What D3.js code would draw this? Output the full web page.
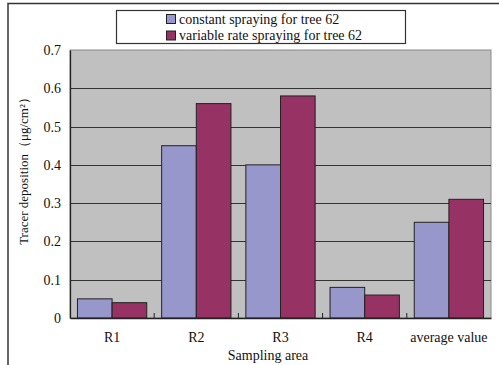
<!DOCTYPE html>
<html>
<head>
<meta charset="utf-8">
<script src="https://cdn.jsdelivr.net/npm/d3@7"></script>
<style>
  html, body { margin: 0; padding: 0; background: #fff; }
  svg { display: block; }
</style>
</head>
<body>
<svg id="chart" width="499" height="365"></svg>
<script>
// Sampling areas and tracer deposition (μg/cm²) for each spraying mode
const categories = ["R1", "R2", "R3", "R4", "average value"];
const constantSpray = [0.05, 0.45, 0.40, 0.08, 0.25];
const variableSpray = [0.04, 0.56, 0.58, 0.06, 0.31];
const seriesNames = ["constant spraying for tree 62", "variable rate spraying for tree 62"];
const seriesColors = ["#9797cb", "#963264"];
const yTicks = [0, 0.1, 0.2, 0.3, 0.4, 0.5, 0.6, 0.7];

const SERIF = "'Liberation Serif', 'Times New Roman', serif";
const svg = d3.select("#chart");
const plot = { left: 70, top: 50, right: 491, bottom: 318 };

// Outer frame (top and left edges)
svg.append("path")
  .attr("d", "M8,365 L8,3.5 L499,3.5")
  .attr("fill", "none").attr("stroke", "#333").attr("stroke-width", 1.5);

const x = d3.scaleBand().domain(categories).range([plot.left, plot.right]).paddingInner(0).paddingOuter(0);
const xs = d3.scaleBand().domain([0, 1]).range([0, x.bandwidth()]).paddingInner(0).paddingOuter(0.215);
const y = d3.scaleLinear().domain([0, 0.7]).range([plot.bottom, plot.top]);

// Plot background
svg.append("rect")
  .attr("x", plot.left).attr("y", plot.top)
  .attr("width", plot.right - plot.left).attr("height", plot.bottom - plot.top)
  .attr("fill", "#c0c0c0").attr("stroke", "#8a8a8a").attr("stroke-width", 1);

// Horizontal gridlines
svg.append("g").selectAll("line")
  .data(yTicks.filter(d => d > 0 && d < 0.7))
  .join("line")
  .attr("x1", plot.left).attr("x2", plot.right)
  .attr("y1", d => Math.round(y(d)) + 0.5).attr("y2", d => Math.round(y(d)) + 0.5)
  .attr("stroke", "#333").attr("stroke-width", 1.2);

// Bars
const groups = svg.append("g").selectAll("g")
  .data(categories.map((c, i) => ({ c, vals: [constantSpray[i], variableSpray[i]] })))
  .join("g")
  .attr("transform", d => `translate(${x(d.c)},0)`);

groups.selectAll("rect")
  .data(d => d.vals.map((v, k) => ({ v, k })))
  .join("rect")
  .attr("x", d => xs(d.k))
  .attr("width", xs.bandwidth())
  .attr("y", d => y(d.v))
  .attr("height", d => y(0) - y(d.v))
  .attr("fill", d => seriesColors[d.k])
  .attr("stroke", "#222").attr("stroke-width", 1);

// Y axis
const yAxis = svg.append("g")
  .attr("transform", `translate(${plot.left},0)`)
  .call(d3.axisLeft(y).tickValues(yTicks).tickFormat(d => d === 0 ? "0" : d3.format(".1f")(d)).tickSize(0).tickPadding(9));
yAxis.attr("font-family", SERIF).attr("font-size", 14);
yAxis.select(".domain").attr("stroke", "#222").attr("stroke-width", 1.3);
yAxis.selectAll("text").attr("fill", "#111");

// X axis
const xAxis = svg.append("g")
  .attr("transform", `translate(0,${plot.bottom})`)
  .call(d3.axisBottom(x).tickSize(0).tickPadding(14));
xAxis.attr("font-family", SERIF).attr("font-size", 14);
xAxis.select(".domain").attr("stroke", "#222").attr("stroke-width", 1.3);
xAxis.selectAll("text").attr("fill", "#111");

// Category separators on the x axis
svg.append("g").selectAll("line")
  .data(categories.slice(1))
  .join("line")
  .attr("x1", d => x(d)).attr("x2", d => x(d))
  .attr("y1", plot.bottom).attr("y2", plot.bottom - 5)
  .attr("stroke", "#222").attr("stroke-width", 1);

// Axis titles
svg.append("text")
  .attr("x", 268).attr("y", 360)
  .attr("text-anchor", "middle")
  .attr("font-family", SERIF).attr("font-size", 14).attr("fill", "#111")
  .text("Sampling area");

svg.append("text")
  .attr("transform", "translate(28,168) rotate(-90)")
  .attr("text-anchor", "middle")
  .attr("font-family", SERIF).attr("font-size", 13).attr("fill", "#111")
  .text("Tracer deposition（μg/cm²）");

// Legend
const legend = svg.append("g");
legend.append("rect")
  .attr("x", 116.5).attr("y", 10.5).attr("width", 289).attr("height", 33)
  .attr("fill", "#fff").attr("stroke", "#333").attr("stroke-width", 1.2);
seriesNames.forEach((name, i) => {
  legend.append("rect")
    .attr("x", 166.5).attr("y", 14.5 + i * 16.5).attr("width", 9).attr("height", 9)
    .attr("fill", seriesColors[i]).attr("stroke", "#222").attr("stroke-width", 1);
  legend.append("text")
    .attr("x", 179).attr("y", 23.5 + i * 16.5)
    .attr("font-family", SERIF).attr("font-size", 14).attr("fill", "#111")
    .text(name);
});
</script>
</body>
</html>
